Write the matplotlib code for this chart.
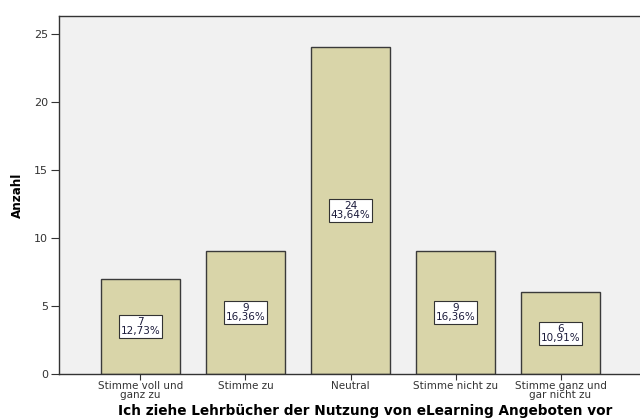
import matplotlib.pyplot as plt

categories = ['Stimme voll und\nganz zu', 'Stimme zu', 'Neutral',
              'Stimme nicht zu', 'Stimme ganz und\ngar nicht zu']
counts = [7, 9, 24, 9, 6]
percents = ['12,73%', '16,36%', '43,64%', '16,36%', '10,91%']

fig = plt.figure(figsize=(6.4, 4.19), dpi=100)
# the original chart is cropped on the right, so the axes run past the figure edge
ax = fig.add_axes([59 / 640, 45 / 419, 612 / 640, 358 / 419])
ax.set_facecolor('#f1f1f1')

x = range(len(categories))
ax.bar(x, counts, width=0.75, color='#d9d5a9', edgecolor='#3a3a3a', linewidth=1.0, zorder=2)

for xi, c, p in zip(x, counts, percents):
    ax.text(xi, c / 2, f'{c}\n{p}', ha='center', va='center', fontsize=7.5,
            color='#1a1a3a', linespacing=0.85, zorder=3,
            bbox=dict(boxstyle='square,pad=0.2', facecolor='white', edgecolor='#333333', linewidth=0.8))

ax.set_xlim(-0.776, 5.052)
ax.set_ylim(0, 26.3)
ax.set_yticks([0, 5, 10, 15, 20, 25])
ax.set_xticks(list(x))
ax.set_xticklabels(categories, fontsize=7.5, linespacing=0.9)
ax.tick_params(axis='y', labelsize=8, length=6, width=0.8, colors='#333333', pad=2)
ax.tick_params(axis='x', length=4, width=0.8, colors='#333333', pad=1)

for s in ['left', 'top', 'bottom', 'right']:
    ax.spines[s].set_color('#333333')
    ax.spines[s].set_linewidth(1.0)

ax.set_ylabel('Anzahl', fontsize=9.5, fontweight='bold', fontstretch='condensed', labelpad=7)
ax.set_xlabel('Ich ziehe Lehrbücher der Nutzung von eLearning Angeboten vor',
              fontsize=9.8, fontweight='bold', labelpad=3)

fig.savefig('out.png', dpi=100)
